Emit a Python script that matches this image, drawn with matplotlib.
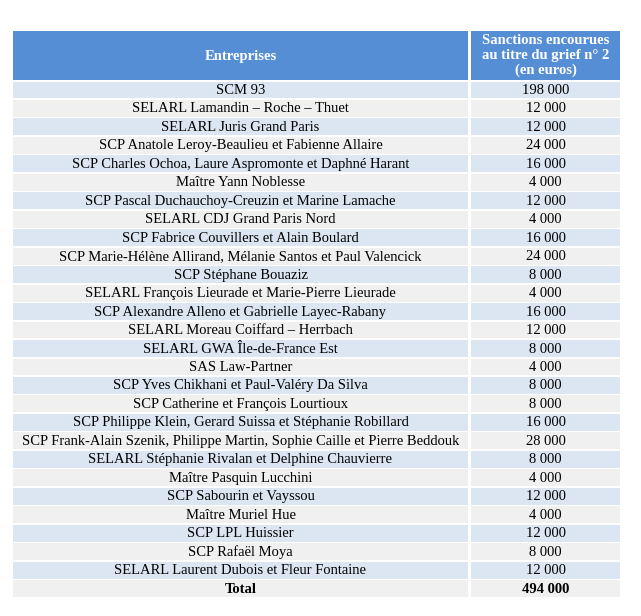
import matplotlib
matplotlib.use("Agg")
import matplotlib.pyplot as plt
from matplotlib.patches import Rectangle

header_left = "Entreprises"
header_right = "Sanctions encourues\nau titre du grief n° 2\n(en euros)"

entreprises = [
    "SCM 93",
    "SELARL Lamandin – Roche – Thuet",
    "SELARL Juris Grand Paris",
    "SCP Anatole Leroy-Beaulieu et Fabienne Allaire",
    "SCP Charles Ochoa, Laure Aspromonte et Daphné Harant",
    "Maître Yann Noblesse",
    "SCP Pascal Duchauchoy-Creuzin et Marine Lamache",
    "SELARL CDJ Grand Paris Nord",
    "SCP Fabrice Couvillers et Alain Boulard",
    "SCP Marie-Hélène Allirand, Mélanie Santos et Paul Valencick",
    "SCP Stéphane Bouaziz",
    "SELARL François Lieurade et Marie-Pierre Lieurade",
    "SCP Alexandre Alleno et Gabrielle Layec-Rabany",
    "SELARL Moreau Coiffard – Herrbach",
    "SELARL GWA Île-de-France Est",
    "SAS Law-Partner",
    "SCP Yves Chikhani et Paul-Valéry Da Silva",
    "SCP Catherine et François Lourtioux",
    "SCP Philippe Klein, Gerard Suissa et Stéphanie Robillard",
    "SCP Frank-Alain Szenik, Philippe Martin, Sophie Caille et Pierre Beddouk",
    "SELARL Stéphanie Rivalan et Delphine Chauvierre",
    "Maître Pasquin Lucchini",
    "SCP Sabourin et Vayssou",
    "Maître Muriel Hue",
    "SCP LPL Huissier",
    "SCP Rafaël Moya",
    "SELARL Laurent Dubois et Fleur Fontaine",
]
sanctions = [198000, 12000, 12000, 24000, 16000, 4000, 12000, 4000, 16000, 24000,
             8000, 4000, 16000, 12000, 8000, 4000, 8000, 8000, 16000, 28000,
             8000, 4000, 12000, 4000, 12000, 8000, 12000]
total_label = "Total"


def fmt(v):
    return f"{v:,}".replace(",", " ")


W, H = 641, 616
fig = plt.figure(figsize=(W / 100, H / 100), dpi=100)
ax = fig.add_axes([0, 0, 1, 1])
ax.set_xlim(0, W)
ax.set_ylim(H, 0)
ax.axis("off")

FONT = "Liberation Serif"
FS = 10.5
HEADER = "#558ED5"
BLUE = "#DCE6F2"
GRAY = "#F0F0F0"

c1_l, c1_r = 13, 468
c2_l, c2_r = 471, 620
head_t, head_b = 31, 80
row_t = 81.5
row_h = 18.47
gap = 1.6

# header
ax.add_patch(Rectangle((c1_l, head_t), c1_r - c1_l, head_b - head_t, color=HEADER, lw=0))
ax.add_patch(Rectangle((c2_l, head_t), c2_r - c2_l, head_b - head_t, color=HEADER, lw=0))
ax.text((c1_l + c1_r) / 2, (head_t + head_b) / 2 + 1, header_left, ha="center", va="center",
        color="white", fontweight="bold", family=FONT, fontsize=FS)
ax.text((c2_l + c2_r) / 2, (head_t + head_b) / 2, header_right, ha="center", va="center",
        color="white", fontweight="bold", family=FONT, fontsize=FS, linespacing=1.2)

rows = list(zip(entreprises, [fmt(v) for v in sanctions]))
rows.append((total_label, fmt(sum(sanctions))))

for i, (name, val) in enumerate(rows):
    y0 = row_t + i * row_h
    color = BLUE if i % 2 == 0 else GRAY
    bold = "bold" if i == len(rows) - 1 else "normal"
    ax.add_patch(Rectangle((c1_l, y0), c1_r - c1_l, row_h - gap, color=color, lw=0))
    ax.add_patch(Rectangle((c2_l, y0), c2_r - c2_l, row_h - gap, color=color, lw=0))
    yc = y0 + (row_h - gap) / 2 + 0.5
    ax.text((c1_l + c1_r) / 2, yc, name, ha="center", va="center", family=FONT,
            fontsize=FS, fontweight=bold, color="black")
    ax.text((c2_l + c2_r) / 2, yc, val, ha="center", va="center", family=FONT,
            fontsize=FS, fontweight=bold, color="black")

fig.savefig("out.png", dpi=100, facecolor="white")
